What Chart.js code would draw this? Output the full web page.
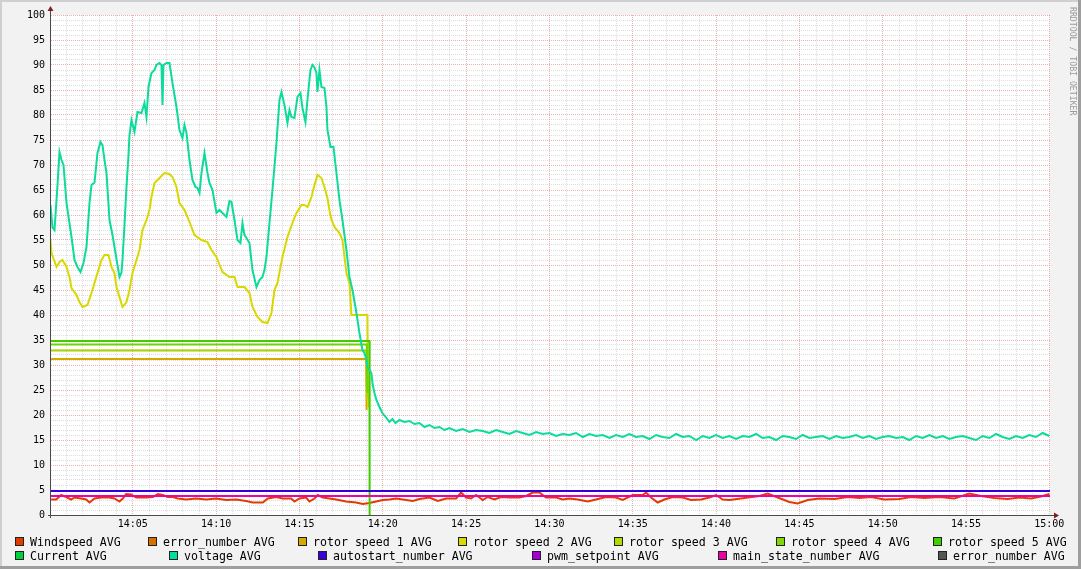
<!DOCTYPE html>
<html>
<head>
<meta charset="utf-8">
<script src="https://cdn.jsdelivr.net/npm/chart.js@4.4.1/dist/chart.umd.min.js"></script>
<style>
  html, body { margin: 0; padding: 0; background: #f2f2f2; }
  #wrap { position: relative; width: 1081px; height: 569px; overflow: hidden; }
  #chart { position: absolute; left: 0; top: 0; }
  .lg { position: absolute; font: 11.6px "DejaVu Sans Mono", monospace; color: #000; white-space: pre; line-height: 12px; }
  .sw { position: absolute; width: 7px; height: 7px; border: 1px solid #222; }
  #credit { position: absolute; left: 1068px; top: 7px; writing-mode: vertical-rl; font: 8.2px "DejaVu Sans Mono", monospace; color: #9a9a9a; }
</style>
</head>
<body>
<div id="wrap">
  <canvas id="chart" width="1081" height="569"></canvas>
  <div id="credit">RRDTOOL / TOBI OETIKER</div>
</div>
<script>
// ========================
// DATA (x = minutes after 14:00, y = value)
// ========================

const voltage = [
  [0.06,62],[0.18,57.5],[0.3,57],[0.48,66],[0.6,72.6],[0.72,71],[0.84,70],[1.02,62.4],[1.32,55.6],[1.5,51],
  [1.68,49.6],[1.86,48.6],[2.04,50.4],[2.22,53.6],[2.4,62.4],[2.52,66],[2.7,66.5],[2.88,72.4],[3.06,74.6],[3.18,74],
  [3.3,71],[3.42,68.4],[3.6,59],[3.78,56],[3.9,53.6],[4.08,50],[4.2,47.6],[4.32,48.5],[4.38,51],[4.5,58],
  [4.62,65.6],[4.74,72],[4.8,76],[4.92,79],[5.1,76.6],[5.28,80.6],[5.52,80.4],[5.7,82.4],[5.82,79.6],[5.94,85.6],
  [6.12,88.4],[6.3,89],[6.42,90],[6.6,90.4],[6.72,90],[6.78,82],[6.84,90],[7.02,90.4],[7.2,90.4],[7.38,86.4],
  [7.62,81.6],[7.8,77],[7.98,75.4],[8.1,78],[8.22,76.4],[8.4,71],[8.58,67],[8.76,65.6],[8.88,65.4],[9.0,64.4],
  [9.12,68.4],[9.3,72.4],[9.48,68.4],[9.6,66.4],[9.78,65],[10.02,60.4],[10.2,61],[10.38,60.4],[10.62,59.6],[10.8,62.8],
  [10.92,62.6],[11.1,59],[11.28,55],[11.46,54.4],[11.58,58.4],[11.7,56],[11.82,55.4],[12.0,54.4],[12.18,49],[12.42,45.6],
  [12.6,47],[12.78,47.6],[12.9,49],[13.02,51.6],[13.2,58.4],[13.38,65],[13.62,74.4],[13.8,83],[13.92,84.6],[14.1,82],
  [14.28,78.4],[14.4,81],[14.52,79.6],[14.7,79.4],[14.88,83.6],[15.06,84.4],[15.18,81.4],[15.36,78.6],[15.48,83],[15.66,89],
  [15.78,90],[15.9,89.5],[16.02,88.4],[16.08,84.6],[16.2,89],[16.32,85.6],[16.5,85.4],[16.62,81.6],[16.68,77],[16.86,73.6],
  [17.04,73.6],[17.22,68.4],[17.4,63],[17.58,59],[17.82,53],[18.0,47.6],[18.18,45],[18.42,40.4],[18.6,36.4],[18.78,33],
  [18.9,32.4],[19.02,31],[19.08,29.6],[19.32,28.4],[19.38,26.4],[19.5,24.4],[19.62,23],[19.8,21.6],[19.98,20.4],[20.22,19.4],
  [20.4,18.6],[20.58,19.2],[20.76,18.4],[21.0,19],[21.3,18.6],[21.6,18.8],[21.9,18.2],[22.2,18.4],[22.5,17.6],[22.8,18],
  [23.1,17.4],[23.4,17.6],[23.7,17.0],[24.0,17.4],[24.4,16.8],[24.8,17.2],[25.2,16.6],[25.6,17.0],[26.0,16.8],[26.4,16.4],
  [26.8,17.0],[27.2,16.6],[27.6,16.2],[28.0,16.8],[28.4,16.4],[28.8,16.0],[29.2,16.6],[29.6,16.2],[30.0,16.4],[30.4,15.8],
  [30.8,16.2],[31.2,16.0],[31.6,16.4],[32.0,15.6],[32.4,16.2],[32.8,15.8],[33.2,16.0],[33.6,15.4],[34.0,16.0],[34.4,15.6],
  [34.8,16.2],[35.2,15.6],[35.6,15.8],[36.0,15.2],[36.4,16.0],[36.8,15.6],[37.2,15.4],[37.6,16.2],[38.0,15.6],[38.4,15.8],
  [38.8,15.0],[39.2,15.8],[39.6,15.4],[40.0,16.0],[40.4,15.4],[40.8,15.8],[41.2,15.2],[41.6,15.8],[42.0,15.6],[42.4,16.2],
  [42.8,15.4],[43.2,15.6],[43.6,15.0],[44.0,15.8],[44.4,15.6],[44.8,15.2],[45.2,16.0],[45.6,15.4],[46.0,15.6],[46.4,15.8],
  [46.8,15.2],[47.2,15.8],[47.6,15.4],[48.0,15.6],[48.4,16.0],[48.8,15.4],[49.2,15.8],[49.6,15.2],[50.0,15.6],[50.4,15.8],
  [50.8,15.4],[51.2,15.6],[51.6,15.0],[52.0,15.8],[52.4,15.4],[52.8,16.0],[53.2,15.4],[53.6,15.8],[54.0,15.2],[54.4,15.6],
  [54.8,15.8],[55.2,15.4],[55.6,15.0],[56.0,15.8],[56.4,15.4],[56.8,16.2],[57.2,15.6],[57.6,15.2],[58.0,15.8],[58.4,15.4],
  [58.8,16.0],[59.2,15.6],[59.6,16.4],[60.0,15.8]
];

const rotorSpeed2 = [
  [0.06,55],[0.12,52.4],[0.42,49.6],[0.6,50.6],[0.78,51],[1.02,49.6],[1.2,47.6],[1.32,45.4],[1.62,44],[1.8,42.6],
  [1.98,41.6],[2.28,42],[2.52,44.4],[2.7,46.4],[2.88,48.4],[3.12,51],[3.3,52],[3.54,52],[3.72,49.6],[3.9,48.4],
  [4.02,45.6],[4.2,43.6],[4.38,41.6],[4.62,42.6],[4.8,45],[4.98,48.4],[5.22,51],[5.4,53],[5.58,57],[5.82,59],
  [6.0,61],[6.12,63.6],[6.3,66.4],[6.6,67.4],[6.9,68.4],[7.2,68.2],[7.38,67.6],[7.62,65.6],[7.8,62.4],[8.1,61],
  [8.28,59.6],[8.52,57.6],[8.7,56],[9.12,55],[9.48,54.6],[9.72,53],[10.02,51.6],[10.2,50],[10.38,48.6],[10.8,47.6],
  [11.1,47.6],[11.28,45.6],[11.7,45.6],[12.0,44.4],[12.18,41.6],[12.48,39.6],[12.78,38.6],[13.08,38.4],[13.32,40.4],[13.5,45],
  [13.68,46.4],[13.98,51.6],[14.28,55.6],[14.58,58.4],[14.82,60.4],[15.12,62],[15.3,62],[15.48,61.6],[15.72,63.6],[15.9,66],
  [16.08,68],[16.32,67.4],[16.5,65.6],[16.68,63.4],[16.8,61],[16.92,59],[17.1,57.6],[17.4,56.4],[17.58,55],[17.82,48.4],
  [18.0,46.4],[18.12,40],[19.08,40],[19.12,21.5],[19.13,null]
];

const rotorSpeed1 = [[0.09,31.2],[19.0,31.2],[19.03,21],[19.04,null]];
const rotorSpeed3 = [[0.09,32.9],[19.02,32.9],[19.05,23.5],[19.06,null]];
const rotorSpeed4 = [[0.09,34.1],[19.04,34.1],[19.07,24.5],[19.08,null]];
const rotorSpeed5 = [[0.09,34.8],[19.2,34.8],[19.21,0],[19.22,null]];

const windspeed = [
  [0.1,3.1],[0.4,3.1],[0.7,4.0],[1.0,3.6],[1.3,3.1],[1.5,3.5],[1.9,3.3],[2.2,3.1],[2.4,2.5],[2.7,3.3],
  [3.1,3.5],[3.6,3.5],[3.9,3.3],[4.2,2.7],[4.4,3.3],[4.6,4.2],[4.9,4.1],[5.2,3.5],[5.8,3.5],[6.2,3.6],
  [6.5,4.2],[6.8,4.0],[7.1,3.6],[7.4,3.6],[7.7,3.3],[8.2,3.1],[8.8,3.3],[9.4,3.1],[10.0,3.3],[10.6,3.0],
  [11.2,3.1],[11.8,2.8],[12.2,2.5],[12.8,2.5],[13.1,3.3],[13.6,3.6],[14.0,3.3],[14.5,3.3],[14.7,2.7],[15.0,3.3],
  [15.4,3.5],[15.6,2.7],[15.9,3.3],[16.1,4.0],[16.4,3.5],[16.8,3.3],[17.2,3.1],[17.8,2.7],[18.4,2.5],[18.8,2.2],
  [19.2,2.4],[19.6,2.7],[20.0,3.0],[20.4,3.1],[20.8,3.3],[21.8,2.8],[22.2,3.2],[22.8,3.5],[23.3,2.8],[23.8,3.3],
  [24.4,3.3],[24.7,4.5],[25.0,3.5],[25.3,3.3],[25.6,4.0],[26.0,3.0],[26.3,3.6],[26.7,3.1],[27.1,3.6],[27.6,3.5],
  [28.2,3.5],[28.6,3.8],[29.0,4.5],[29.4,4.5],[29.8,3.5],[30.4,3.5],[30.8,3.1],[31.2,3.3],[31.7,3.1],[32.3,2.7],
  [32.8,3.1],[33.4,3.6],[34.0,3.5],[34.4,3.0],[35.0,4.0],[35.6,4.0],[35.8,4.5],[36.1,3.5],[36.5,2.5],[36.9,3.1],
  [37.4,3.6],[38.0,3.5],[38.5,3.0],[39.1,3.1],[39.6,3.5],[40.0,4.0],[40.4,3.1],[40.8,3.0],[41.7,3.4],[42.6,3.8],
  [43.1,4.3],[43.7,3.5],[44.4,2.6],[44.9,2.3],[45.5,3.0],[46.2,3.3],[47.1,3.2],[47.9,3.6],[48.6,3.4],[49.3,3.6],
  [50.1,3.1],[51.0,3.2],[51.7,3.6],[52.5,3.4],[53.4,3.6],[54.3,3.3],[55.2,4.3],[55.9,3.8],[56.7,3.4],[57.5,3.2],
  [58.2,3.5],[58.9,3.3],[59.5,3.7],[60.0,4.2]
];

const autostartNumber = [[0.09,4.8],[60.04,4.8]];
const mainStateNumber = [[0.09,3.8],[60.04,3.8]];

const legendRow1 = ['Windspeed AVG', 'error_number AVG', 'rotor speed 1 AVG', 'rotor speed 2 AVG',
                    'rotor speed 3 AVG', 'rotor speed 4 AVG', 'rotor speed 5 AVG'];
const legendRow2 = ['Current AVG', 'voltage AVG', 'autostart_number AVG', 'pwm_setpoint AVG',
                    'main_state_number AVG', 'error_number AVG'];
const legendColors1 = ['#e03c00', '#d87000', '#d8a800', '#dada00', '#b0dc00', '#80d800', '#40d000'];
const legendColors2 = ['#00d040', '#00dda0', '#3a00dd', '#a800dd', '#ee00a8', '#555555'];

const minuteTicks = [...Array(60).keys()].map(i => i + 1);
const valueTicks = [...Array(101).keys()];

// ========================
// LEGEND (html)
// ========================

const wrap = document.getElementById('wrap');
function addLegend(labels, colors, xs, top) {
  labels.forEach((label, i) => {
    const sw = document.createElement('div');
    sw.className = 'sw';
    sw.style.left = xs[i] + 'px';
    sw.style.top = top + 'px';
    sw.style.background = colors[i];
    wrap.appendChild(sw);
    const t = document.createElement('div');
    t.className = 'lg';
    t.style.left = (xs[i] + 15) + 'px';
    t.style.top = (top - 1.5) + 'px';
    t.textContent = label;
    wrap.appendChild(t);
  });
}
addLegend(legendRow1, legendColors1, [15, 148, 298, 458, 614, 776, 933], 537);
addLegend(legendRow2, legendColors2, [15, 169, 318, 532, 718, 938], 551);

// ========================
// CHART
// ========================

function series(data, color, i) {
  return { data, borderColor: color, backgroundColor: color, order: 100 - i, spanGaps: false };
}

const frame = {
  id: 'frame',
  beforeDraw(chart) {
    const c = chart.ctx, a = chart.chartArea;
    c.save();
    c.fillStyle = '#f2f2f2';
    c.fillRect(0, 0, 1081, 569);
    c.fillStyle = '#cfcfcf';
    c.fillRect(0, 0, 1081, 2);
    c.fillRect(0, 0, 2, 569);
    c.fillStyle = '#9e9e9e';
    c.fillRect(1078, 0, 3, 569);
    c.fillRect(0, 566, 1081, 3);
    c.fillStyle = '#ffffff';
    c.fillRect(a.left, a.top, a.right - a.left, a.bottom - a.top);
    c.restore();
  },
  afterDraw(chart) {
    const c = chart.ctx, a = chart.chartArea;
    c.save();
    c.strokeStyle = '#4a4a4a';
    c.lineWidth = 1;
    c.beginPath();
    c.moveTo(a.left - 0.5, a.bottom + 3);
    c.lineTo(a.left - 0.5, a.top - 6);
    c.moveTo(a.left - 3, a.bottom + 0.5);
    c.lineTo(a.right + 6, a.bottom + 0.5);
    c.stroke();
    c.fillStyle = '#801f1f';
    c.beginPath();
    c.moveTo(a.left - 0.5, a.top - 9);
    c.lineTo(a.left - 3.5, a.top - 4);
    c.lineTo(a.left + 2.5, a.top - 4);
    c.closePath();
    c.fill();
    c.beginPath();
    c.moveTo(a.right + 9, a.bottom + 0.5);
    c.lineTo(a.right + 4, a.bottom - 2.5);
    c.lineTo(a.right + 4, a.bottom + 3.5);
    c.closePath();
    c.fill();
    c.restore();
  }
};

const gridColor = ctx => ctx.tick && ctx.tick.value % 5 === 0 ? 'rgba(222,79,79,0.45)' : 'rgba(143,143,143,0.3)';
const axisFont = { family: 'DejaVu Sans Mono', size: 10 };

new Chart(document.getElementById('chart'), {
  type: 'line',
  data: {
    datasets: [
      series(windspeed, '#e03c00', 0),
      series(rotorSpeed1, '#d8a800', 1),
      series(rotorSpeed2, '#d8d800', 2),
      series(rotorSpeed3, '#a8d400', 3),
      series(rotorSpeed4, '#70d400', 4),
      series(rotorSpeed5, '#40cc00', 5),
      series(voltage, '#0cdb9c', 6),
      series(autostartNumber, '#3300dd', 7),
      series(mainStateNumber, '#ee00aa', 8)
    ]
  },
  options: {
    responsive: false,
    animation: false,
    layout: { padding: { top: 15, right: 31, left: 0, bottom: 0 } },
    plugins: { legend: { display: false }, tooltip: { enabled: false } },
    elements: { point: { radius: 0 }, line: { borderWidth: 2, tension: 0 } },
    scales: {
      x: {
        type: 'linear', min: 0.09, max: 60.04,
        afterBuildTicks: s => { s.ticks = minuteTicks.map(v => ({ value: v })); },
        afterFit: s => { s.height = 54; },
        grid: { color: gridColor, lineWidth: 1, drawTicks: false },
        border: { display: false, dash: [1, 1] },
        ticks: {
          autoSkip: false, maxRotation: 0, padding: 3, color: '#000', font: axisFont,
          callback: v => v % 5 === 0 ? (v === 60 ? '15:00' : '14:' + String(v).padStart(2, '0')) : ''
        }
      },
      y: {
        min: 0, max: 100,
        afterBuildTicks: s => { s.ticks = valueTicks.map(v => ({ value: v })); },
        afterFit: s => { s.width = 51; },
        grid: { color: gridColor, lineWidth: 1, drawTicks: false },
        border: { display: false, dash: [1, 1] },
        ticks: {
          autoSkip: false, padding: 6, color: '#000', font: axisFont,
          callback: v => v % 5 === 0 ? String(v) : ''
        }
      }
    }
  },
  plugins: [frame]
});
</script>
</body>
</html>
